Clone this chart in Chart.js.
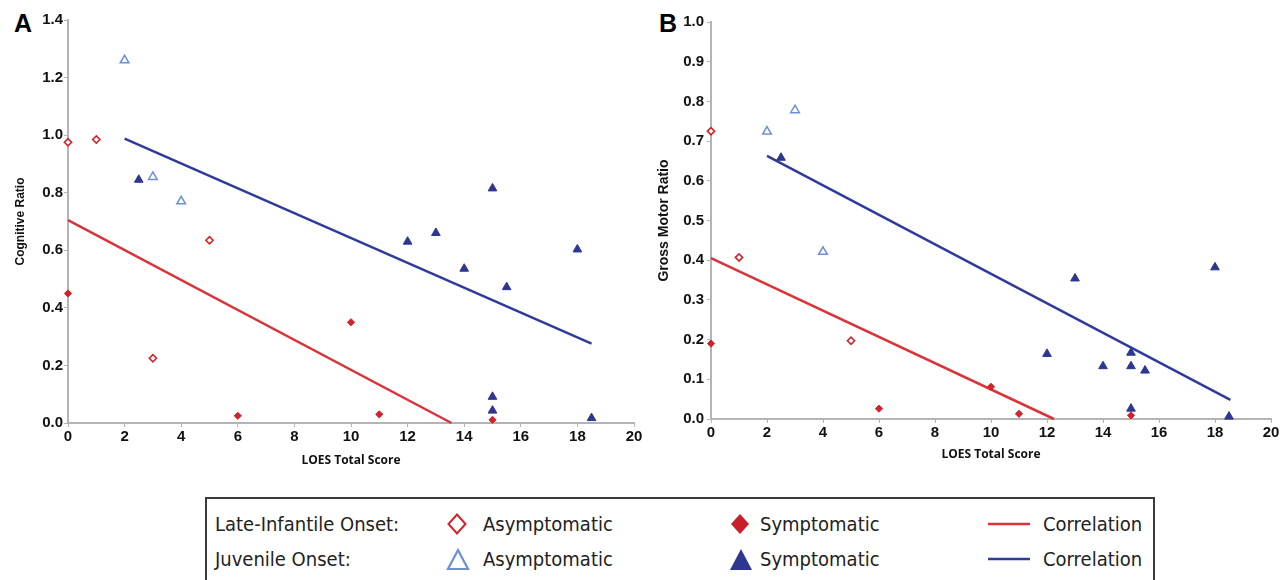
<!DOCTYPE html>
<html>
<head>
<meta charset="utf-8">
<script src="https://cdn.jsdelivr.net/npm/chart.js@4.4.0/dist/chart.umd.min.js"></script>
<style>
  body { margin: 0; background: #fff; width: 1282px; height: 580px; overflow: hidden; position: relative; }
  .panel { position: absolute; top: 0; }
  .tag { position: absolute; top: 9px; font: bold 25px 'Liberation Sans', Arial, sans-serif; color: #000; }
  #legend { position: absolute; left: 205px; top: 497px; width: 950px; height: 100px; border: 2px solid #3a3a3a; box-sizing: border-box; }
  .lg { position: absolute; font: 20px 'Liberation Sans Narrow', 'DejaVu Sans Condensed', sans-serif; color: #222; white-space: nowrap; line-height: 1; }
  svg.mk { position: absolute; overflow: visible; }
</style>
</head>
<body>
<div class="tag" style="left:14px">A</div>
<div class="tag" style="left:659px">B</div>
<canvas id="chartA" class="panel" style="left:0px" width="650" height="480"></canvas>
<canvas id="chartB" class="panel" style="left:650px" width="632" height="480"></canvas>

<div id="legend"></div>
<span class="lg" style="left:215px;top:514px">Late-Infantile Onset:</span>
<span class="lg" style="left:215px;top:549px">Juvenile Onset:</span>
<svg class="mk" style="left:447px;top:513px" width="20" height="22"><polygon points="10,1.5 18.5,11 10,20.5 1.5,11" fill="#fff" stroke="#d2232a" stroke-width="2"/></svg>
<span class="lg" style="left:483px;top:514px">Asymptomatic</span>
<svg class="mk" style="left:730px;top:513px" width="20" height="22"><polygon points="10,1 19,11 10,21 1,11" fill="#c8202a"/></svg>
<span class="lg" style="left:760px;top:514px">Symptomatic</span>
<svg class="mk" style="left:988px;top:520px" width="44" height="8"><line x1="0" y1="4" x2="42" y2="4" stroke="#d9343a" stroke-width="2.5"/></svg>
<span class="lg" style="left:1043px;top:514px">Correlation</span>
<svg class="mk" style="left:446px;top:548px" width="24" height="22"><polygon points="12,2 22,21 2,21" fill="#fff" stroke="#6d8fd6" stroke-width="2.2"/></svg>
<span class="lg" style="left:483px;top:549px">Asymptomatic</span>
<svg class="mk" style="left:729px;top:548px" width="24" height="22"><polygon points="12,1 23,22 1,22" fill="#2e3592"/></svg>
<span class="lg" style="left:760px;top:549px">Symptomatic</span>
<svg class="mk" style="left:988px;top:555px" width="44" height="8"><line x1="0" y1="4" x2="42" y2="4" stroke="#2f3b9c" stroke-width="2.5"/></svg>
<span class="lg" style="left:1043px;top:549px">Correlation</span>

<script>
// panel A: cognitive ratio vs LOES score, [x, y]
const cogLateAsym = [[0, 0.975], [1, 0.985], [3, 0.225], [5, 0.635]];
const cogLateSym = [[0, 0.45], [6, 0.025], [10, 0.35], [11, 0.03], [15, 0.011]];
const cogJuvAsym = [[2, 1.26], [3, 0.855], [4, 0.77]];
const cogJuvSym = [[2.5, 0.845], [12, 0.63], [13, 0.66], [14, 0.536], [15, 0.815], [15.5, 0.472],
  [18, 0.603], [15, 0.091], [15, 0.043], [18.5, 0.017]];
const cogLateFit = [[0, 0.705], [13.55, 0]];
const cogJuvFit = [[2, 0.988], [18.5, 0.276]];

// panel B: gross motor ratio vs LOES score
const motLateAsym = [[0, 0.725], [1, 0.407], [5, 0.197]];
const motLateSym = [[0, 0.19], [6, 0.026], [10, 0.081], [11, 0.013], [15, 0.009]];
const motJuvAsym = [[2, 0.724], [3, 0.778], [4, 0.421]];
const motJuvSym = [[2.5, 0.658], [12, 0.164], [13, 0.354], [14, 0.133], [15, 0.167], [15, 0.133],
  [15.5, 0.122], [18, 0.382], [15, 0.026], [18.5, 0.006]];
const motLateFit = [[0, 0.405], [12.25, 0]];
const motJuvFit = [[2, 0.663], [18.55, 0.048]];

const xTickStep = 2;
const xMax = 20;

const RED = '#d2232a';
const BLUE = '#2e3592';
const LIGHT_BLUE = '#6d8fd6';
const AXIS = '#b4b4b4';

const pts = (arr) => arr.map(([x, y]) => ({ x, y }));

function makeChart(id, o) {
  const ctx = document.getElementById(id);
  const common = { clip: false, showLine: false };
  return new Chart(ctx, {
    type: 'scatter',
    data: {
      datasets: [
        { ...common, data: pts(o.lateAsym), pointStyle: 'rectRot', pointRadius: 3.6, borderWidth: 1.6,
          borderColor: RED, backgroundColor: '#fff', order: 1 },
        { ...common, data: pts(o.lateSym), pointStyle: 'rectRot', pointRadius: 3.6, borderWidth: 1,
          borderColor: RED, backgroundColor: RED, order: 1 },
        { ...common, data: pts(o.juvAsym), pointStyle: 'triangle', pointRadius: 5, borderWidth: 1.5,
          borderColor: LIGHT_BLUE, backgroundColor: '#fff', order: 1 },
        { ...common, data: pts(o.juvSym), pointStyle: 'triangle', pointRadius: 5, borderWidth: 1,
          borderColor: BLUE, backgroundColor: BLUE, order: 1 },
        { clip: false, data: pts(o.lateFit), showLine: true, pointRadius: 0, borderWidth: 2.5,
          borderColor: '#d9343a', order: 2 },
        { clip: false, data: pts(o.juvFit), showLine: true, pointRadius: 0, borderWidth: 2.5,
          borderColor: '#2f3b9c', order: 2 },
      ],
    },
    options: {
      responsive: false,
      animation: false,
      events: [],
      layout: { padding: o.padding },
      plugins: { legend: { display: false }, tooltip: { enabled: false } },
      scales: {
        x: {
          min: 0, max: xMax,
          afterFit: (s) => { s.height = o.xHeight; },
          border: { color: AXIS, width: 2 },
          grid: { drawOnChartArea: false, drawTicks: true, tickLength: 4, color: AXIS },
          ticks: { stepSize: xTickStep, color: '#111', padding: 1,
            font: { family: 'Liberation Sans', size: 15, weight: 'bold' } },
          title: { display: true, text: 'LOES Total Score', color: '#111', padding: { top: 0, bottom: o.xTitlePad },
            font: { family: 'Open Sans', size: 12, weight: 'bold' } },
        },
        y: {
          min: 0, max: o.yMax,
          afterFit: (s) => { s.width = o.yWidth; },
          border: { color: AXIS, width: 2 },
          grid: { drawOnChartArea: false, drawTicks: true, tickLength: 4, color: AXIS },
          ticks: { stepSize: o.yStep, color: '#111', padding: o.yTickPad,
            callback: (v) => v.toFixed(1),
            font: { family: 'Liberation Sans', size: 15, weight: 'bold' } },
          title: { display: true, text: o.yTitle, color: '#111', padding: { top: o.yTitlePad, bottom: 0 },
            font: { family: 'Liberation Sans', size: o.yTitleSize, weight: 'bold' } },
        },
      },
    },
  });
}

makeChart('chartA', {
  lateAsym: cogLateAsym, lateSym: cogLateSym, juvAsym: cogJuvAsym, juvSym: cogJuvSym,
  lateFit: cogLateFit, juvFit: cogJuvFit,
  yMax: 1.4, yStep: 0.2, yTitle: 'Cognitive Ratio', yTitleSize: 12,
  padding: { top: 20, right: 16, left: 0, bottom: 0 },
  xHeight: 57, yWidth: 68, xTitlePad: 12, yTitlePad: 13, yTickPad: 1,
});

makeChart('chartB', {
  lateAsym: motLateAsym, lateSym: motLateSym, juvAsym: motJuvAsym, juvSym: motJuvSym,
  lateFit: motLateFit, juvFit: motJuvFit,
  yMax: 1.0, yStep: 0.1, yTitle: 'Gross Motor Ratio', yTitleSize: 14,
  padding: { top: 22, right: 11, left: 0, bottom: 0 },
  xHeight: 61, yWidth: 61, xTitlePad: 18, yTitlePad: 6, yTickPad: 3,
});
</script>
</body>
</html>
